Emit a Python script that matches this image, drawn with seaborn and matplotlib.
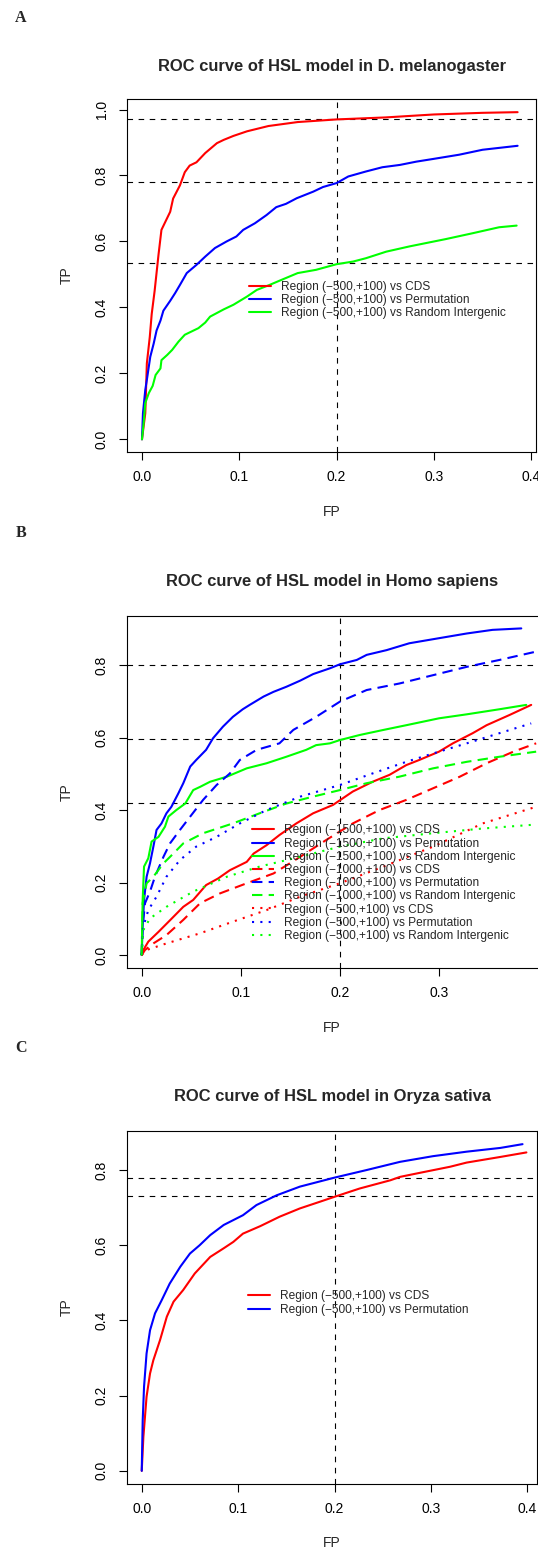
import matplotlib
matplotlib.use("Agg")
import matplotlib.pyplot as plt
import seaborn as sns

# ---- data (FP, TP) ----
# Panel A: D. melanogaster, region (-500,+100)
a_cds_fp = [0, 0.0034, 0.005, 0.008, 0.010, 0.013, 0.017, 0.020, 0.029, 0.032, 0.039, 0.044, 0.049, 0.056,
            0.065, 0.077, 0.084, 0.094, 0.108, 0.13, 0.16, 0.2, 0.25, 0.3, 0.35, 0.386]
a_cds_tp = [0, 0.079, 0.23, 0.31, 0.38, 0.45, 0.56, 0.635, 0.69, 0.73, 0.77, 0.81, 0.83, 0.84,
            0.868, 0.898, 0.908, 0.92, 0.934, 0.95, 0.962, 0.97, 0.976, 0.985, 0.99, 0.992]
a_perm_fp = [0, 0.001, 0.0034, 0.005, 0.007, 0.0085, 0.012, 0.015, 0.019, 0.022, 0.029, 0.034, 0.039, 0.046,
             0.056, 0.065, 0.075, 0.087, 0.097, 0.104, 0.116, 0.128, 0.138, 0.148, 0.159, 0.176, 0.186, 0.2,
             0.212, 0.23, 0.247, 0.265, 0.282, 0.299, 0.326, 0.35, 0.386]
a_perm_tp = [0, 0.079, 0.15, 0.18, 0.22, 0.25, 0.29, 0.33, 0.36, 0.39, 0.42, 0.443, 0.468, 0.504,
             0.529, 0.554, 0.58, 0.60, 0.615, 0.635, 0.655, 0.68, 0.704, 0.714, 0.731, 0.751, 0.765, 0.777,
             0.797, 0.812, 0.825, 0.832, 0.842, 0.85, 0.863, 0.878, 0.89]
a_rand_fp = [0, 0.0017, 0.0034, 0.007, 0.011, 0.014, 0.019, 0.02, 0.026, 0.031, 0.0375, 0.044, 0.058, 0.065,
             0.07, 0.084, 0.094, 0.108, 0.118, 0.131, 0.143, 0.16, 0.179, 0.2, 0.217, 0.23, 0.251, 0.275,
             0.312, 0.34, 0.367, 0.385]
a_rand_tp = [0, 0.049, 0.11, 0.14, 0.162, 0.195, 0.215, 0.24, 0.256, 0.271, 0.296, 0.317, 0.337, 0.354,
             0.372, 0.394, 0.408, 0.433, 0.453, 0.468, 0.483, 0.504, 0.514, 0.531, 0.539, 0.549, 0.569, 0.585,
             0.607, 0.625, 0.643, 0.648]
a_hlines = [0.97, 0.78, 0.535]

# Panel B: Homo sapiens
b1500_cds_fp = [0, 0.0017, 0.0067, 0.017, 0.029, 0.042, 0.052, 0.065, 0.077, 0.089, 0.106, 0.113, 0.126, 0.139,
                0.156, 0.173, 0.193, 0.213, 0.233, 0.25, 0.267, 0.28, 0.3, 0.314, 0.334, 0.348, 0.371, 0.393]
b1500_cds_tp = [0, 0.014, 0.037, 0.064, 0.097, 0.133, 0.152, 0.193, 0.211, 0.234, 0.257, 0.28, 0.303, 0.331,
                0.363, 0.391, 0.414, 0.451, 0.478, 0.497, 0.524, 0.538, 0.561, 0.584, 0.612, 0.634, 0.662, 0.69]
b1500_perm_fp = [0, 0.001, 0.0024, 0.005, 0.0084, 0.0118, 0.015, 0.02, 0.025, 0.03, 0.037, 0.042, 0.049, 0.055,
                 0.065, 0.072, 0.082, 0.092, 0.102, 0.109, 0.123, 0.133, 0.146, 0.16, 0.173, 0.19, 0.2, 0.217,
                 0.227, 0.247, 0.27, 0.3, 0.328, 0.354, 0.383]
b1500_perm_tp = [0, 0.078, 0.152, 0.216, 0.253, 0.299, 0.345, 0.363, 0.391, 0.409, 0.446, 0.474, 0.52, 0.538,
                 0.566, 0.598, 0.63, 0.657, 0.678, 0.69, 0.713, 0.726, 0.74, 0.757, 0.775, 0.791, 0.802, 0.814,
                 0.828, 0.841, 0.86, 0.874, 0.887, 0.897, 0.901]
b1500_rand_fp = [0, 0.001, 0.0024, 0.0067, 0.01, 0.017, 0.0235, 0.027, 0.035, 0.044, 0.052, 0.059, 0.069, 0.086,
                 0.106, 0.126, 0.146, 0.166, 0.176, 0.19, 0.2, 0.22, 0.244, 0.267, 0.3, 0.328, 0.361, 0.388]
b1500_rand_tp = [0, 0.152, 0.244, 0.267, 0.313, 0.326, 0.354, 0.382, 0.4, 0.418, 0.455, 0.464, 0.478, 0.492,
                 0.515, 0.529, 0.547, 0.566, 0.579, 0.584, 0.593, 0.607, 0.621, 0.634, 0.653, 0.664, 0.678, 0.69]
b1000_cds_fp = [0, 0.0034, 0.0118, 0.025, 0.042, 0.059, 0.079, 0.106, 0.133, 0.16, 0.186, 0.213, 0.24, 0.267,
                0.294, 0.321, 0.348, 0.375, 0.398]
b1000_cds_tp = [0, 0.014, 0.032, 0.055, 0.097, 0.143, 0.17, 0.198, 0.225, 0.271, 0.317, 0.363, 0.4, 0.428,
                0.46, 0.492, 0.529, 0.561, 0.584]
b1000_perm_fp = [0, 0.001, 0.0034, 0.0084, 0.0134, 0.022, 0.0286, 0.0386, 0.049, 0.062, 0.0756, 0.089, 0.099,
                 0.116, 0.139, 0.153, 0.176, 0.2, 0.227, 0.26, 0.294, 0.328, 0.361, 0.398]
b1000_perm_tp = [0, 0.078, 0.143, 0.175, 0.216, 0.271, 0.308, 0.345, 0.382, 0.428, 0.469, 0.501, 0.538,
                 0.566, 0.584, 0.621, 0.657, 0.699, 0.731, 0.749, 0.772, 0.795, 0.814, 0.837]
b1000_rand_fp = [0, 0.001, 0.005, 0.0118, 0.022, 0.032, 0.042, 0.062, 0.092, 0.119, 0.146, 0.173, 0.2, 0.227,
                 0.26, 0.294, 0.328, 0.361, 0.398]
b1000_rand_tp = [0, 0.143, 0.198, 0.216, 0.253, 0.28, 0.308, 0.336, 0.363, 0.391, 0.418, 0.437, 0.455, 0.474,
                 0.492, 0.515, 0.533, 0.547, 0.561]
b500_cds_fp = [0, 0.005, 0.025, 0.059, 0.092, 0.126, 0.16, 0.2, 0.244, 0.294, 0.344, 0.398]
b500_cds_tp = [0, 0.014, 0.032, 0.06, 0.092, 0.124, 0.161, 0.198, 0.244, 0.299, 0.363, 0.409]
b500_perm_fp = [0, 0.0017, 0.0067, 0.015, 0.025, 0.0386, 0.055, 0.0756, 0.099, 0.126, 0.16, 0.2, 0.233, 0.267,
                0.294, 0.328, 0.361, 0.393]
b500_perm_tp = [0, 0.078, 0.124, 0.161, 0.216, 0.262, 0.299, 0.326, 0.363, 0.4, 0.437, 0.469, 0.501, 0.533,
                0.556, 0.584, 0.612, 0.639]
b500_rand_fp = [0, 0.0017, 0.0084, 0.025, 0.052, 0.086, 0.119, 0.16, 0.2, 0.244, 0.294, 0.344, 0.393]
b500_rand_tp = [0, 0.069, 0.101, 0.133, 0.175, 0.216, 0.244, 0.271, 0.299, 0.322, 0.336, 0.349, 0.359]
b_hlines = [0.8, 0.595, 0.42]

# Panel C: Oryza sativa
c_cds_fp = [0, 0.0017, 0.005, 0.0086, 0.012, 0.019, 0.026, 0.033, 0.043, 0.055, 0.071, 0.085, 0.095, 0.105,
            0.123, 0.143, 0.164, 0.185, 0.2, 0.226, 0.258, 0.268, 0.289, 0.32, 0.337, 0.372, 0.399]
c_cds_tp = [0, 0.09, 0.197, 0.259, 0.294, 0.348, 0.41, 0.45, 0.481, 0.525, 0.569, 0.592, 0.609, 0.631,
            0.651, 0.676, 0.698, 0.716, 0.729, 0.751, 0.773, 0.782, 0.793, 0.809, 0.82, 0.835, 0.847]
c_perm_fp = [0, 0.001, 0.0024, 0.005, 0.0086, 0.0138, 0.0207, 0.029, 0.04, 0.05, 0.06, 0.071, 0.085, 0.105,
             0.119, 0.14, 0.164, 0.2, 0.233, 0.268, 0.302, 0.337, 0.372, 0.395]
c_perm_tp = [0, 0.135, 0.224, 0.312, 0.374, 0.419, 0.454, 0.498, 0.543, 0.578, 0.6, 0.627, 0.654, 0.68,
             0.707, 0.733, 0.756, 0.78, 0.8, 0.822, 0.837, 0.849, 0.859, 0.869]
c_hlines = [0.78, 0.73]

lab_cds = "Region (\u2212{},+100) vs CDS"
lab_perm = "Region (\u2212{},+100) vs Permutation"
lab_rand = "Region (\u2212{},+100) vs Random Intergenic"

RED, BLUE, GREEN = "#FF0000", "#0000FF", "#00FF00"
SOLID, DASHED, DOTTED = "-", (0, (5, 3)), (0, (1, 3))

sns.set_style("ticks")
plt.rcParams["font.family"] = ["Liberation Sans", "DejaVu Sans"]
plt.rcParams["axes.linewidth"] = 0.8

W, H = 538, 1554
fig = plt.figure(figsize=(W / 100, H / 100), dpi=100)


def px_axes(left, top, right, bottom):
    return fig.add_axes([left / W, 1 - bottom / H, (right - left) / W, (bottom - top) / H])


def setup(ax, xlim, ylim, xticks, yticks):
    ax.set_xlim(*xlim)
    ax.set_ylim(*ylim)
    ax.set_xticks(xticks)
    ax.set_xticklabels([f"{t:.1f}" for t in xticks])
    ax.set_yticks(yticks)
    ax.set_yticklabels([f"{t:.1f}" for t in yticks], rotation=90, va="center")
    ax.tick_params(length=6, width=0.8, pad=7, labelsize=10, colors="black")
    ax.set_xlabel("")
    ax.set_ylabel("")
    for s in ax.spines.values():
        s.set_visible(True)
        s.set_color("black")


def refs(ax, hl):
    for h in hl:
        ax.axhline(h, color="black", lw=0.8, ls=(0, (5, 5)), zorder=1)
    ax.axvline(0.2, color="black", lw=0.8, ls=(0, (5, 5)), zorder=1)


def curve(ax, fp, tp, color, ls, label):
    sns.lineplot(x=fp, y=tp, ax=ax, color=color, linestyle=ls, lw=1.5, label=label,
                 estimator=None, sort=False, zorder=3)


def leg(ax, x, y):
    ax.legend(loc="upper left", bbox_to_anchor=(x / W, 1 - y / H), bbox_transform=fig.transFigure,
              frameon=False, fontsize=8.6, borderpad=0, borderaxespad=0, labelspacing=0.1,
              handlelength=1.85, handletextpad=0.8)


def panel_text(letter, ly, title, ty, fpy, tpy):
    fig.text(21 / W, 1 - ly / H, letter, ha="center", va="center", fontsize=11.5, fontweight="bold",
             family=["Liberation Serif", "DejaVu Serif"])
    fig.text(332 / W, 1 - ty / H, title, ha="center", va="center", fontsize=11.9, fontweight="bold")
    fig.text(332 / W, 1 - fpy / H, "FP", ha="center", va="center", fontsize=10)
    fig.text(67 / W, 1 - tpy / H, "TP", ha="center", va="center", fontsize=10, rotation=90)


# Panel A
axA = px_axes(126.7, 99.3, 535.7, 451.7)
refs(axA, a_hlines)
curve(axA, a_cds_fp, a_cds_tp, RED, SOLID, lab_cds.format(500))
curve(axA, a_perm_fp, a_perm_tp, BLUE, SOLID, lab_perm.format(500))
curve(axA, a_rand_fp, a_rand_tp, GREEN, SOLID, lab_rand.format(500))
setup(axA, (-0.0157, 0.4046), (-0.0376, 1.031), [0, 0.1, 0.2, 0.3, 0.4], [0, 0.2, 0.4, 0.6, 0.8, 1.0])
leg(axA, 249, 281)
panel_text("A", 18, "ROC curve of HSL model in D. melanogaster", 66.7, 511.7, 275.5)

# Panel B (plot region runs past the right edge of the picture)
axB = px_axes(126.7, 615.5, 554, 968.3)
refs(axB, b_hlines)
curve(axB, b1500_cds_fp, b1500_cds_tp, RED, SOLID, lab_cds.format(1500))
curve(axB, b1500_perm_fp, b1500_perm_tp, BLUE, SOLID, lab_perm.format(1500))
curve(axB, b1500_rand_fp, b1500_rand_tp, GREEN, SOLID, lab_rand.format(1500))
curve(axB, b1000_cds_fp, b1000_cds_tp, RED, DASHED, lab_cds.format(1000))
curve(axB, b1000_perm_fp, b1000_perm_tp, BLUE, DASHED, lab_perm.format(1000))
curve(axB, b1000_rand_fp, b1000_rand_tp, GREEN, DASHED, lab_rand.format(1000))
curve(axB, b500_cds_fp, b500_cds_tp, RED, DOTTED, lab_cds.format(500))
curve(axB, b500_perm_fp, b500_perm_tp, BLUE, DOTTED, lab_perm.format(500))
curve(axB, b500_rand_fp, b500_rand_tp, GREEN, DOTTED, lab_rand.format(500))
setup(axB, (-0.0151, 0.416), (-0.0366, 0.9366), [0, 0.1, 0.2, 0.3], [0, 0.2, 0.4, 0.6, 0.8])
leg(axB, 252, 824.5)
panel_text("B", 533.3, "ROC curve of HSL model in Homo sapiens", 581.7, 1028.3, 792)

# Panel C
axC = px_axes(126.7, 1131, 537, 1484)
refs(axC, c_hlines)
curve(axC, c_cds_fp, c_cds_tp, RED, SOLID, lab_cds.format(500))
curve(axC, c_perm_fp, c_perm_tp, BLUE, SOLID, lab_perm.format(500))
setup(axC, (-0.0156, 0.41), (-0.035, 0.904), [0, 0.1, 0.2, 0.3, 0.4], [0, 0.2, 0.4, 0.6, 0.8])
leg(axC, 248, 1290.5)
panel_text("C", 1048.3, "ROC curve of HSL model in Oryza sativa", 1096.7, 1542.7, 1307.5)

fig.savefig("out.png", dpi=100)
